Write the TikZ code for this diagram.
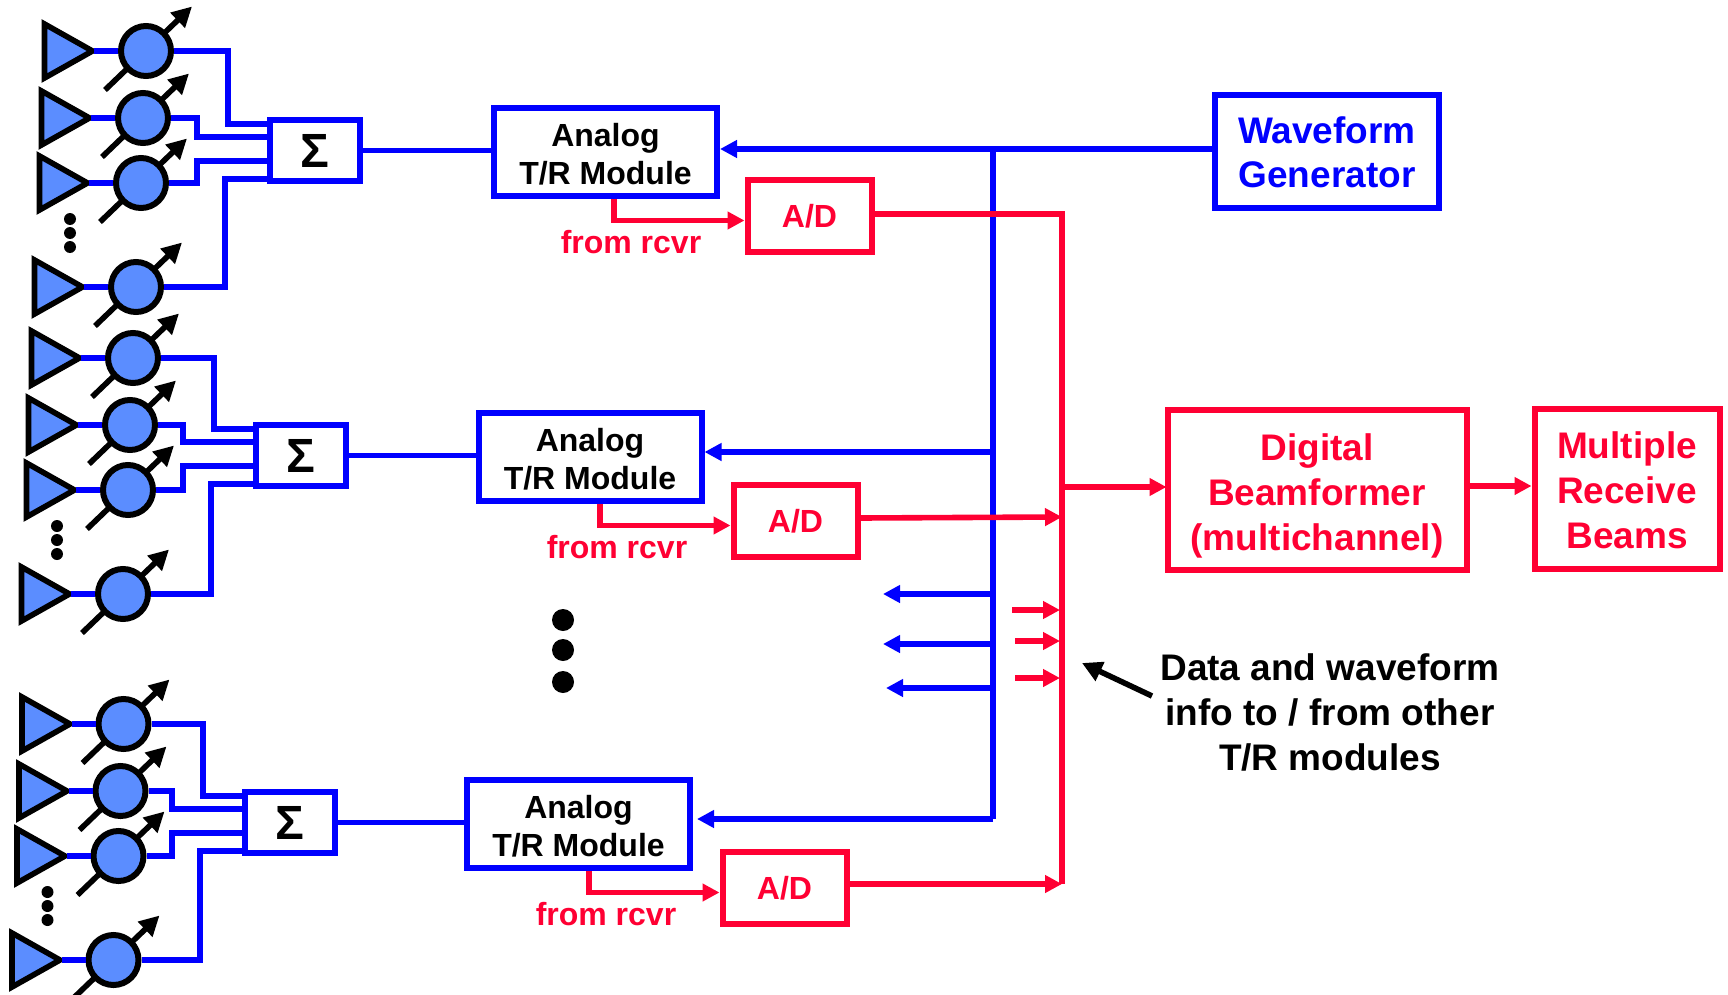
\documentclass[tikz,border=0pt]{standalone}
\usepackage{fontspec}
\setmainfont{Liberation Sans}
\usetikzlibrary{arrows.meta}
\definecolor{bl}{RGB}{0,0,255}
\definecolor{rd}{RGB}{255,0,51}
\definecolor{fillb}{RGB}{91,141,255}
\newcommand{\dnshift}[2]{\raisebox{-#1pt}[\height][\depth]{#2}}
\tikzset{
  x=0.5pt,y=-0.5pt,
  bluewire/.style={draw=bl,line width=2.8pt,line join=miter},
  redwire/.style={draw=rd,line width=2.8pt,line join=miter},
  bluetip/.style={bluewire,-{Triangle[length=8.5pt,width=8.5pt]}},
  redtip/.style={redwire,-{Triangle[length=8.5pt,width=8.5pt]}},
  blackarrow/.style={draw=black,line width=2.8pt,-{Triangle[length=10pt,width=10pt]}},
  bluebox/.style={draw=bl,line width=3pt,fill=white,align=center,inner sep=0pt},
  redbox/.style={draw=rd,line width=3pt,fill=white,align=center,inner sep=0pt,text=rd},
  smalltxt/.style={font=\fontsize{16}{19}\selectfont\bfseries},
  bigtxt/.style={font=\fontsize{18.5}{22.4}\selectfont\bfseries},
  analogbox/.style={bluebox,smalltxt,minimum width=111.5pt,minimum height=44pt},
  adbox/.style={redbox,smalltxt,minimum width=62pt,minimum height=36pt},
  sigbox/.style={bluebox,font=\fontsize{24}{28}\selectfont\bfseries,minimum width=44.75pt,minimum height=30.5pt},
  phase/.style={circle,draw=black,fill=fillb,line width=3pt,minimum size=25pt,inner sep=0pt},
  dotsmall/.style={circle,fill=black,minimum size=6pt,inner sep=0pt},
  dotbig/.style={circle,fill=black,minimum size=11pt,inner sep=0pt},
}
\begin{document}
\begin{tikzpicture}
\path[use as bounding box,fill=white] (0,0) rectangle (1728,995);
\clip (0,0) rectangle (1728,995);
\foreach \g/\dx/\dy/\ex/\ey/\ax in {1/0/0/0/0/0,2/-14/305/1/2/-1.5,3/-25/672/2.5/1/-2}{
\begin{scope}[shift={(\dx,\dy)}]
  \node[sigbox] (sig\g) at (314.75,150.5) {Σ};
  \node[analogbox] (an\g) at ({605.5+\ax},152) {\dnshift{1.25}{Analog}\\\dnshift{1.35}{T/R Module}};
  \node[adbox] (ad\g) at (809.5,216.25) {A/D};
  \node[text=rd,smalltxt] (rc\g) at (631,242) {from rcvr};
  \foreach \i/\x/\y in {1/146/51,2/143/118,3/141/183,4/136/287}{
    \begin{scope}[shift={({\x+\ex},{\y+\ey})}]
      \coordinate (tail\g-\i) at (-41,39);
      \coordinate (tip\g-\i) at (46,-44.5);
      \coordinate (apex\g-\i) at (-53.5,0);
      \draw[blackarrow] (tail\g-\i) -- (tip\g-\i);
      \draw[draw=black,fill=fillb,line width=2.8pt,miter limit=10] (-101.5,-27) -- (apex\g-\i) -- (-101.5,27) -- cycle;
      \node[phase] (ph\g-\i) at (0,0) {};
      \draw[bluewire] (-52,0) -- (ph\g-\i.west);
    \end{scope}
  }
  \coordinate (sa\g) at (267,124);
  \coordinate (sb\g) at (267,137);
  \coordinate (sc\g) at (267,161);
  \coordinate (sd\g) at (267,179);
  \coordinate (va\g) at (228,124);
  \coordinate (vb\g) at (197,137);
  \coordinate (vc\g) at (197,161);
  \coordinate (vd\g) at (225,179);
  \draw[bluewire] (ph\g-1.east) -| (va\g) -- (sa\g);
  \draw[bluewire] (ph\g-2.east) -| (vb\g) -- (sb\g);
  \draw[bluewire] (ph\g-3.east) -| (vc\g) -- (sc\g);
  \draw[bluewire] (ph\g-4.east) -| (vd\g) -- (sd\g);
  \draw[bluewire] (sig\g.east) -- (sig\g.east -| an\g.west);
  \node[dotsmall] (da\g) at ({70+\ex},{219+\ey}) {};
  \node[dotsmall] (db\g) at ({70+\ex},{233+\ey}) {};
  \node[dotsmall] (dc\g) at ({70+\ex},{247+\ey}) {};
  \coordinate (rb\g) at (614,220.5);
  \draw[redtip] (rb\g |- an\g.south) -- (rb\g) -- (ad\g.west |- rb\g);
\end{scope}
}
\node[bluebox,bigtxt,text=bl,minimum width=112pt,minimum height=56.5pt] (wave) at (1327,151.5) {\dnshift{0.8}{Waveform}\\\dnshift{0.25}{Generator}};
\node[redbox,bigtxt,minimum width=149.5pt,minimum height=80pt] (dbf) at (1317,490) {\dnshift{2.95}{Digital}\\\dnshift{2.95}{Beamformer}\\\dnshift{2.95}{(multichannel)}};
\node[redbox,bigtxt,minimum width=92.5pt,minimum height=80pt] (mrb) at (1627,489) {\dnshift{0.55}{Multiple}\\\dnshift{0.55}{Receive}\\\dnshift{0.55}{Beams}};
\node[dotbig] (bd1) at (563,620) {};
\node[dotbig] (bd2) at (563,650) {};
\node[dotbig] (bd3) at (563,682) {};
% blue distribution
\coordinate (bt) at (993,149);
\coordinate (bb) at (993,819);
\draw[bluetip] (wave.west |- bt) -- (an1.east |- bt);
\draw[bluewire,line width=3pt] (bt) -- (bb);
\draw[bluetip] (993,452) -- (an2.east |- 0,452);
\draw[bluetip,shorten >=2pt] (bb) -- (an3.east |- bb);
\coordinate (ba) at (993,594); \coordinate (bae) at (883,594);
\coordinate (bc) at (993,644); \coordinate (bce) at (883,644);
\coordinate (bd) at (996,688); \coordinate (bde) at (886,688);
\draw[bluetip] (ba) -- (bae);
\draw[bluetip] (bc) -- (bce);
\draw[bluetip] (bd) -- (bde);
% red distribution
\coordinate (rt) at (1062,214);
\coordinate (rm) at (1062,517);
\coordinate (rj) at (1062,487);
\coordinate (rz) at (1062,884);
\draw[redwire] (ad1.east |- rt) -- (rt) -- (rz);
\draw[redtip] (ad2.east |- 0,518) -- (rm);
\draw[redtip] (ad3.east |- rz) -- (rz);
\draw[redtip,shorten >=-1pt] (rj) -- (rj -| dbf.west);
\draw[redtip] (dbf.east |- 0,486) -- (mrb.west |- 0,486);
\coordinate (ra) at (1012,610); \coordinate (rae) at (1060,610);
\coordinate (rb) at (1015,641); \coordinate (rbe) at (1060,641);
\coordinate (rc) at (1015,678); \coordinate (rce) at (1060,678);
\draw[redtip] (ra) -- (rae);
\draw[redtip] (rb) -- (rbe);
\draw[redtip] (rc) -- (rce);
\node[bigtxt,align=center] (data) at (1330,712.5) {Data and waveform\\info to / from other\\T/R modules};
\coordinate (dt) at (1152,696);
\coordinate (dh) at (1082,663);
\draw[blackarrow] (dt) -- (dh);
\end{tikzpicture}
\end{document}
